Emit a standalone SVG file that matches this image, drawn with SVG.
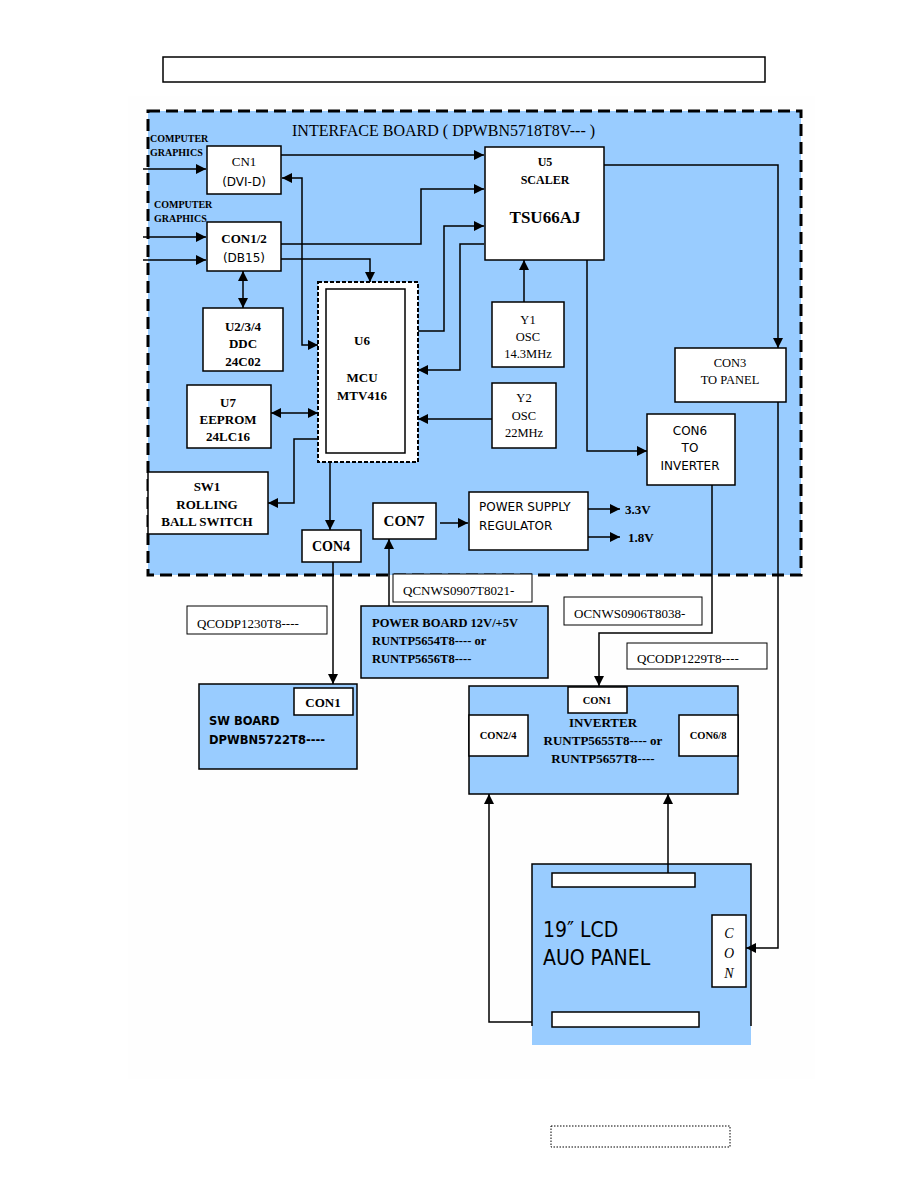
<svg xmlns="http://www.w3.org/2000/svg" width="918" height="1188" viewBox="0 0 918 1188">
<defs>
<marker id="ah" viewBox="0 0 10 10" refX="10" refY="5" markerWidth="10" markerHeight="10" markerUnits="userSpaceOnUse" orient="auto-start-reverse">
<path d="M0,0 L10,5 L0,10 z" fill="#000"/>
</marker>
<style>
.bx{fill:#fff;stroke:#000;stroke-width:1.5}
.bl{fill:#99ccff;stroke:#000;stroke-width:1.5}
.c{fill:none;stroke:#000;stroke-width:1.5}
.a{marker-end:url(#ah)}
.b{marker-start:url(#ah);marker-end:url(#ah)}
text{fill:#000}
.sb{font-family:"Liberation Serif",serif;font-weight:bold;font-size:13px}
.sr{font-family:"Liberation Serif",serif;font-size:12.5px}
.ss{font-family:"DejaVu Sans",sans-serif;font-size:12px}
.m{text-anchor:middle}
.lab{font-family:"Liberation Serif",serif;font-size:13px}
.cg{font-family:"Liberation Serif",serif;font-weight:bold;font-size:10px}
</style>
</defs>
<rect x="128" y="96" width="687" height="983" fill="#fefefe"/>
<rect x="163" y="57" width="602" height="25" fill="#fff" stroke="#000" stroke-width="1.5"/>
<rect x="551" y="1126" width="179" height="21" fill="#fff" stroke="#000" stroke-width="1" stroke-dasharray="1.5 1.5"/>

<g id="interface-board">
<rect x="148" y="111" width="653" height="464" fill="#99ccff" stroke="#000" stroke-width="3" stroke-dasharray="12 6"/>
<text x="292" y="136" style="font-family:'Liberation Serif',serif;font-size:16px">INTERFACE BOARD ( DPWBN5718T8V--- )</text>
<text class="cg" x="150" y="142">COMPUTER</text>
<text class="cg" x="150" y="156">GRAPHICS</text>
<text class="cg" x="154" y="208">COMPUTER</text>
<text class="cg" x="154" y="222">GRAPHICS</text>
</g>

<g id="cn1">
<rect class="bx" x="207" y="146" width="74" height="48"/>
<text class="sr m" x="244" y="166" style="font-size:13px">CN1</text>
<text class="ss m" x="244" y="186">(DVI-D)</text>
</g>
<g id="con1-2">
<rect class="bx" x="207" y="222" width="74" height="49"/>
<text class="sb m" x="244" y="243">CON1/2</text>
<text class="ss m" x="244" y="262">(DB15)</text>
</g>
<g id="u5">
<rect class="bx" x="485" y="147" width="119" height="113"/>
<text class="sb m" x="545" y="166" style="font-size:12px">U5</text>
<text class="sb m" x="545" y="184" style="font-size:12px">SCALER</text>
<text class="sb m" x="545" y="223" style="font-size:17px">TSU66AJ</text>
</g>
<g id="u6">
<rect x="318" y="282" width="100" height="180" fill="#fff" stroke="#000" stroke-width="2" stroke-dasharray="4 2"/>
<rect x="326" y="289" width="79" height="164" fill="#fff" stroke="#000" stroke-width="1.5"/>
<text class="sb m" x="362" y="345">U6</text>
<text class="sb m" x="362" y="382">MCU</text>
<text class="sb m" x="362" y="400">MTV416</text>
</g>
<g id="u2-3-4">
<rect class="bx" x="203" y="308" width="80" height="63"/>
<text class="sb m" x="243" y="331">U2/3/4</text>
<text class="sb m" x="243" y="348">DDC</text>
<text class="sb m" x="243" y="366">24C02</text>
</g>
<g id="u7">
<rect class="bx" x="187" y="385" width="84" height="63"/>
<text class="sb m" x="228" y="407">U7</text>
<text class="sb m" x="228" y="424">EEPROM</text>
<text class="sb m" x="228" y="441">24LC16</text>
</g>
<g id="sw1">
<rect class="bx" x="148" y="472" width="120" height="62"/>
<text class="sb m" x="207" y="491">SW1</text>
<text class="sb m" x="207" y="509">ROLLING</text>
<text class="sb m" x="207" y="526">BALL SWITCH</text>
</g>
<g id="con4">
<rect class="bx" x="302" y="530" width="59" height="32"/>
<text class="sb m" x="331" y="551" style="font-size:14px">CON4</text>
</g>
<g id="con7">
<rect class="bx" x="373" y="503" width="63" height="36"/>
<text class="sb m" x="404" y="526" style="font-size:15px">CON7</text>
</g>
<g id="psr">
<rect class="bx" x="469" y="492" width="119" height="58"/>
<text class="ss" x="479" y="511">POWER SUPPLY</text>
<text class="ss" x="479" y="530">REGULATOR</text>
<text class="sb" x="625" y="514">3.3V</text>
<text class="sb" x="628" y="542">1.8V</text>
</g>
<g id="y1">
<rect class="bx" x="492" y="302" width="72" height="65"/>
<text class="sr m" x="528" y="324">Y1</text>
<text class="sr m" x="528" y="341">OSC</text>
<text class="sr m" x="528" y="358">14.3MHz</text>
</g>
<g id="y2">
<rect class="bx" x="492" y="383" width="64" height="65"/>
<text class="sr m" x="524" y="402">Y2</text>
<text class="sr m" x="524" y="420">OSC</text>
<text class="sr m" x="524" y="437">22MHz</text>
</g>
<g id="con3">
<rect class="bx" x="675" y="348" width="111" height="54"/>
<text class="sr m" x="730" y="367">CON3</text>
<text class="sr m" x="730" y="384">TO PANEL</text>
</g>
<g id="con6">
<rect class="bx" x="647" y="414" width="88" height="71"/>
<text class="ss m" x="690" y="435">CON6</text>
<text class="ss m" x="690" y="452">TO</text>
<text class="ss m" x="690" y="470">INVERTER</text>
</g>

<g id="label-qcodp1230">
<rect class="bx" x="187" y="606" width="140" height="28" style="stroke-width:1"/>
<text class="lab" x="197" y="628">QCODP1230T8----</text>
</g>
<g id="label-qcnws0907">
<rect class="bx" x="393" y="574" width="139" height="28" style="stroke-width:1"/>
<text class="lab" x="403" y="595">QCNWS0907T8021-</text>
</g>
<g id="label-ocnws0906">
<rect class="bx" x="564" y="597" width="138" height="28" style="stroke-width:1"/>
<text class="lab" x="574" y="618">OCNWS0906T8038-</text>
</g>
<g id="label-qcodp1229">
<rect class="bx" x="627" y="643" width="140" height="26" style="stroke-width:1"/>
<text class="lab" x="637" y="663">QCODP1229T8----</text>
</g>

<g id="power-board">
<rect class="bl" x="361" y="606" width="187" height="72"/>
<text class="sb" x="372" y="627" style="font-size:12.5px">POWER BOARD 12V/+5V</text>
<text class="sb" x="372" y="645" style="font-size:12.5px">RUNTP5654T8---- or</text>
<text class="sb" x="372" y="663" style="font-size:12.5px">RUNTP5656T8----</text>
</g>
<g id="sw-board">
<rect class="bl" x="199" y="684" width="158" height="85"/>
<rect class="bx" x="294" y="688" width="59" height="27"/>
<text class="sb m" x="323" y="707">CON1</text>
<text x="209" y="725" style="font-family:'DejaVu Sans',sans-serif;font-weight:bold;font-size:11.5px">SW BOARD</text>
<text x="209" y="744" style="font-family:'DejaVu Sans',sans-serif;font-weight:bold;font-size:11.5px">DPWBN5722T8----</text>
</g>
<g id="inverter">
<rect class="bl" x="469" y="686" width="269" height="108"/>
<rect class="bx" x="568" y="687" width="59" height="26"/>
<text class="sb m" x="597" y="704" style="font-size:10.5px">CON1</text>
<rect class="bx" x="469" y="715" width="59" height="41"/>
<text class="sb m" x="498" y="739" style="font-size:10.5px">CON2/4</text>
<rect class="bx" x="679" y="715" width="59" height="41"/>
<text class="sb m" x="708" y="739" style="font-size:10.5px">CON6/8</text>
<text class="sb m" x="603" y="727">INVERTER</text>
<text class="sb m" x="603" y="745">RUNTP5655T8---- or</text>
<text class="sb m" x="603" y="763">RUNTP5657T8----</text>
</g>
<g id="lcd-panel">
<rect x="532" y="864" width="219" height="181" fill="#99ccff"/>
<path d="M532 1026 V864 H751 V1026" fill="none" stroke="#000" stroke-width="1.5"/>
<rect class="bx" x="552" y="873" width="143" height="14"/>
<rect class="bx" x="552" y="1012" width="147" height="15"/>
<rect class="bx" x="712" y="915" width="34" height="72"/>
<text class="m" x="729" y="938" style="font-family:'Liberation Serif',serif;font-style:italic;font-size:14px">C</text>
<text class="m" x="729" y="958" style="font-family:'Liberation Serif',serif;font-style:italic;font-size:14px">O</text>
<text class="m" x="729" y="978" style="font-family:'Liberation Serif',serif;font-style:italic;font-size:14px">N</text>
<text x="543" y="937" style="font-family:'DejaVu Sans Condensed','DejaVu Sans',sans-serif;font-size:21px">19″ LCD</text>
<text x="543" y="965" style="font-family:'DejaVu Sans Condensed','DejaVu Sans',sans-serif;font-size:21px">AUO PANEL</text>
</g>

<g id="connectors">
<path class="c a" d="M143 169 H206"/>
<path class="c a" d="M143 237 H206"/>
<path class="c a" d="M143 260 H206"/>
<path class="c a" d="M281 155 H484"/>
<path class="c a" d="M281 244 H421 V189 H484"/>
<path class="c a" d="M418 331 H444 V226 H484"/>
<path class="c a" d="M484 244 H460 V370 H418"/>
<path class="c a" d="M281 259 H370 V282"/>
<path class="c b" d="M282 178 H302 V345 H318"/>
<path class="c b" d="M243 271 V308"/>
<path class="c b" d="M271 413 H318"/>
<path class="c a" d="M318 439 H294 V503 H268"/>
<path class="c a" d="M330 462 V530"/>
<path class="c a" d="M333 562 V684"/>
<path class="c a" d="M389 606 V539"/>
<path class="c a" d="M440 523 H468"/>
<path class="c a" d="M588 509 H620"/>
<path class="c a" d="M588 537 H620"/>
<path class="c a" d="M524 302 V260"/>
<path class="c a" d="M492 419 H418"/>
<path class="c a" d="M587 260 V451 H647"/>
<path class="c a" d="M604 165 H778 V348"/>
<path class="c a" d="M712 485 V633 H599 V686"/>
<path class="c a" d="M778 402 V948 H746"/>
<path class="c a" d="M532 1022 H489 V794"/>
<path class="c a" d="M668 873 V794"/>
</g>
</svg>
